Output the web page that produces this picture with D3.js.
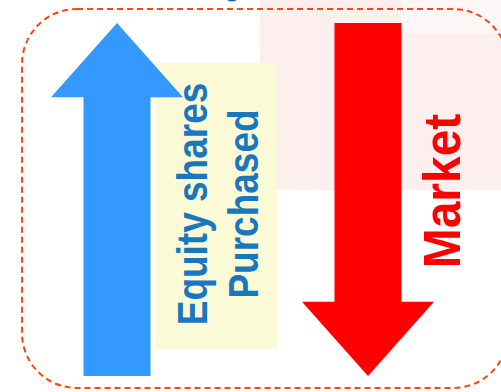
<!DOCTYPE html>
<html>
<head>
<meta charset="utf-8">
<script src="https://cdn.jsdelivr.net/npm/d3@7"></script>
<style>
  html, body { margin: 0; padding: 0; background: #fff; }
  svg { display: block; }
  text { font-family: "Liberation Sans", Arial, sans-serif; font-weight: bold; }
</style>
</head>
<body>
<div id="chart"></div>
<script>
// Two flows shown as arrows: shares bought (up) and market (down).
const flows = ["up", "down"];
const flowLabels = [["Equity shares", "Purchased"], ["Market"]];
const flowColors = ["#3399ff", "#ff0000"];
const labelColors = ["#1b76c0", "#ff0000"];

const W = 501, H = 392;

const svg = d3.select("#chart").append("svg")
    .attr("width", W)
    .attr("height", H);

// faint pink backdrop behind the right half (slide remnant)
svg.append("rect")
    .attr("x", 260).attr("y", 0)
    .attr("width", W - 260).attr("height", 190)
    .attr("fill", "#fdefee");
svg.append("rect")
    .attr("x", 401).attr("y", 0)
    .attr("width", W - 401).attr("height", 33)
    .attr("fill", "#fdf8f7");
svg.append("ellipse")
    .attr("cx", 232).attr("cy", -2)
    .attr("rx", 6).attr("ry", 3.5)
    .attr("fill", "#2a5fb0");

// dashed rounded frame
svg.append("rect")
    .attr("x", 22).attr("y", 9)
    .attr("width", 486).attr("height", 379)
    .attr("rx", 55).attr("ry", 55)
    .attr("fill", "none")
    .attr("stroke", "#ff4510")
    .attr("stroke-width", 2)
    .attr("stroke-dasharray", "6,4");

// light yellow label panel for the up arrow
svg.append("rect")
    .attr("x", 155).attr("y", 63)
    .attr("width", 122).attr("height", 286)
    .attr("fill", "#fafad6");

const x = d3.scalePoint().domain(flows).range([117, 368]);
const y = d3.scaleLinear().domain([0, 1]).range([376, 23]);
const shaftW = 67, headW = 132, headLen = 0.21;

function arrowPath(dir) {
    const cx = x(dir);
    const p = d3.path();
    if (dir === "up") {
        const tip = y(1), base = y(1 - headLen), bot = y(0);
        p.moveTo(cx, tip);
        p.lineTo(cx + headW / 2, base);
        p.lineTo(cx + shaftW / 2, base);
        p.lineTo(cx + shaftW / 2, bot);
        p.lineTo(cx - shaftW / 2, bot);
        p.lineTo(cx - shaftW / 2, base);
        p.lineTo(cx - headW / 2, base);
    } else {
        const tip = y(0), base = y(headLen), top = y(1);
        p.moveTo(cx - shaftW / 2, top);
        p.lineTo(cx + shaftW / 2, top);
        p.lineTo(cx + shaftW / 2, base);
        p.lineTo(cx + headW / 2, base);
        p.lineTo(cx, tip);
        p.lineTo(cx - headW / 2, base);
        p.lineTo(cx - shaftW / 2, base);
    }
    p.closePath();
    return p.toString();
}

svg.append("g").selectAll("path")
    .data(flows)
    .join("path")
    .attr("d", arrowPath)
    .attr("fill", (d, i) => flowColors[i]);

// rotated labels; slight horizontal stretch like the original slide
const labelSpec = [
    { baseX: 207, cy: 204, size: 37, lead: 45, sx: 1.13 },
    { baseX: 460, cy: 191, size: 48, lead: 50, sx: 1.09 },
];

flows.forEach((dir, i) => {
    const s = labelSpec[i];
    const g = svg.append("g")
        .attr("transform", `translate(${s.baseX},${s.cy}) scale(${s.sx},1) rotate(-90)`);
    g.selectAll("text")
        .data(flowLabels[i])
        .join("text")
        .attr("x", 0)
        .attr("y", (d, j) => j * s.lead)
        .attr("text-anchor", "middle")
        .attr("font-size", s.size)
        .attr("fill", labelColors[i])
        .text(d => d);
});
</script>
</body>
</html>
